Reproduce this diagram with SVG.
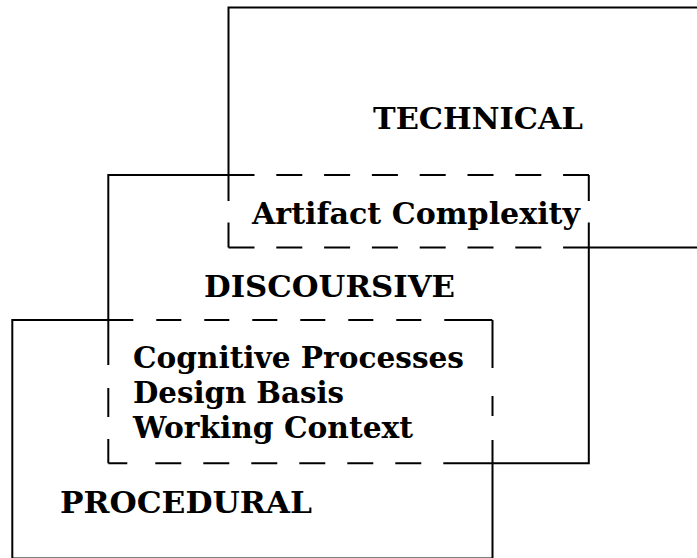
<svg xmlns="http://www.w3.org/2000/svg" width="697" height="558" viewBox="0 0 697 558">
<style>
.ln{fill:none;stroke:#000;stroke-width:2}
.lb{font-family:"DejaVu Serif","Liberation Serif",serif;font-weight:bold;font-size:30px;fill:#000}
</style>
<rect width="697" height="558" fill="#fff"/>
<g id="technical">
<path class="ln" d="M228.5 175 V7.5 H700"/>
<path class="ln" d="M589 247.5 H700"/>
<text class="lb" x="373" y="129" textLength="210" lengthAdjust="spacingAndGlyphs">TECHNICAL</text>
</g>
<g id="discoursive">
<path class="ln" d="M228.5 175 H108.3 V320"/>
<path class="ln" d="M492.5 463.3 H588.8 V247.5"/>
<text class="lb" x="204" y="297" textLength="251" lengthAdjust="spacingAndGlyphs">DISCOURSIVE</text>
</g>
<g id="procedural">
<path class="ln" d="M108.3 320 H12.3 V558.5 H492.5 V463.3"/>
<text class="lb" x="60" y="513" textLength="252" lengthAdjust="spacingAndGlyphs">PROCEDURAL</text>
</g>
<g id="overlap-technical-discoursive">
<path class="ln" stroke-dasharray="26 21.8" d="M228.5 175 H589"/>
<path class="ln" stroke-dasharray="26 21.8" d="M228.5 247.5 H589"/>
<path class="ln" stroke-dasharray="26 21.5 25" d="M228.5 175 V247.5"/>
<path class="ln" stroke-dasharray="26 21.5 25" d="M588.8 175 V247.5"/>
<text class="lb" x="252" y="224" textLength="328" lengthAdjust="spacingAndGlyphs">Artifact Complexity</text>
</g>
<g id="overlap-discoursive-procedural">
<path class="ln" stroke-dasharray="25 23 25 23 25 23 25 23 25 23 25 23 25 23 48" d="M108.3 320 H492.5"/>
<path class="ln" stroke-dasharray="19 28 26 22 26 22 26 22 26 22 26 22 26 22 50" d="M108.3 463.3 H492.5"/>
<path class="ln" stroke-dasharray="48 28 20 24 23" d="M492.5 320 V463.3"/>
<path class="ln" stroke-dasharray="45 23 29 22 25" d="M108.3 320 V463.3"/>
<text class="lb" x="133" y="368" textLength="331" lengthAdjust="spacingAndGlyphs">Cognitive Processes</text>
<text class="lb" x="133" y="403" textLength="211" lengthAdjust="spacingAndGlyphs">Design Basis</text>
<text class="lb" x="133" y="438" textLength="280" lengthAdjust="spacingAndGlyphs">Working Context</text>
</g>
</svg>
